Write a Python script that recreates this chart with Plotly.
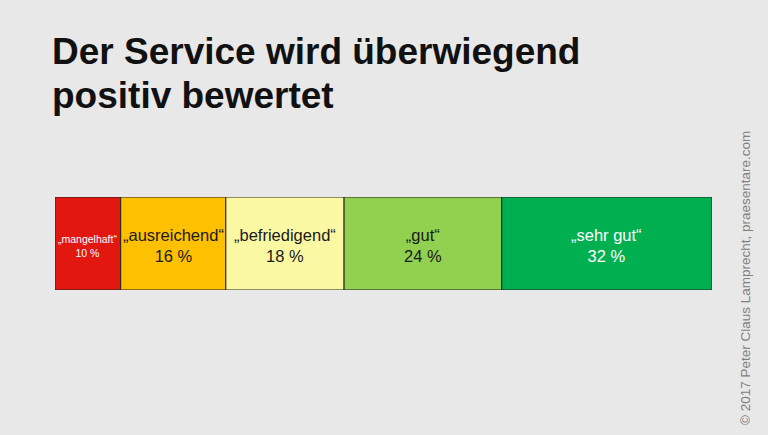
import plotly.graph_objects as go

# Bewertungen des Service (Anteile in %)
categories = ["„mangelhaft“", "„ausreichend“", "„befriedigend“", "„gut“", "„sehr gut“"]
shares = [10, 16, 18, 24, 32]
colors = ["#E2170F", "#FFC000", "#FAF8A3", "#92D050", "#00B050"]
text_colors = ["white", "#1a1a1a", "#1a1a1a", "#1a1a1a", "white"]
text_sizes = [10.5, 16.5, 16.5, 16.5, 16.5]
title_lines = ["Der Service wird überwiegend", "positiv bewertet"]

bg = "#E8E8E8"
font = "Liberation Sans, Arial, Helvetica, sans-serif"

# plot area in pixels: x 55..712, y 197..290
def py(pix):
    return (290 - pix) / 93

fig = go.Figure()

start = 0
for cat, val, col, tcol, tsize in zip(categories, shares, colors, text_colors, text_sizes):
    fig.add_trace(go.Bar(
        y=[0], x=[val], base=[start], orientation="h", width=1,
        marker=dict(color=col, line=dict(color="#222222", width=1)),
        hoverinfo="skip", showlegend=False,
    ))
    fig.add_annotation(
        x=start + val / 2, y=0, xref="x", yref="y", yshift=-2,
        text=f"{cat}<br>{val} %", showarrow=False,
        font=dict(family=font, size=tsize, color=tcol),
    )
    start += val

fig.update_layout(
    width=768, height=435,
    paper_bgcolor=bg, plot_bgcolor=bg,
    margin=dict(l=55, r=56, t=197, b=145),
    barmode="overlay",
    xaxis=dict(range=[0, 100], visible=False, fixedrange=True),
    yaxis=dict(range=[-0.5, 0.5], visible=False, fixedrange=True),
    font=dict(family=font),
)

for i, line in enumerate(title_lines):
    fig.add_annotation(
        x=(50 - 55) / 657, y=py(29 + 44 * i), xref="paper", yref="paper",
        xanchor="left", yanchor="top", align="left",
        text=f"<b>{line}</b>", showarrow=False,
        font=dict(family=font, size=37, color="#111111"),
    )

fig.add_annotation(
    x=(745 - 55) / 657, y=py(278), xref="paper", yref="paper",
    xanchor="center", yanchor="middle",
    text="© 2017 Peter Claus Lamprecht, praesentare.com",
    showarrow=False, textangle=-90,
    font=dict(family=font, size=13.5, color="#808080"),
)

fig.write_html("out.html", config={"displayModeBar": False},
               post_script="document.body.style.margin='0';")
